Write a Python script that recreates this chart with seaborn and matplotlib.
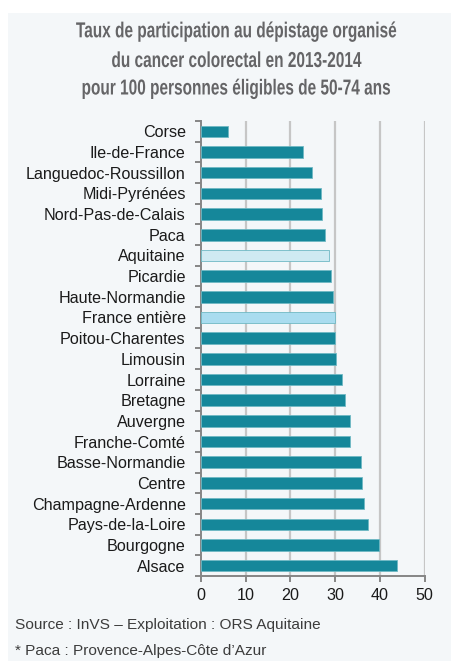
import matplotlib
matplotlib.use("Agg")
import matplotlib.pyplot as plt
from matplotlib.patches import Rectangle
from matplotlib.patheffects import AbstractPathEffect
from matplotlib.transforms import Affine2D
from matplotlib.ticker import FixedLocator
import seaborn as sns
import pandas as pd

regions = ["Corse", "Ile-de-France", "Languedoc-Roussillon", "Midi-Pyrénées",
           "Nord-Pas-de-Calais", "Paca", "Aquitaine", "Picardie",
           "Haute-Normandie", "France entière", "Poitou-Charentes", "Limousin",
           "Lorraine", "Bretagne", "Auvergne", "Franche-Comté",
           "Basse-Normandie", "Centre", "Champagne-Ardenne",
           "Pays-de-la-Loire", "Bourgogne", "Alsace"]
taux = [6.1, 22.7, 24.9, 26.8, 27.1, 27.8, 28.6, 29.1, 29.6, 29.9, 29.9, 30.1,
        31.6, 32.1, 33.4, 33.4, 35.7, 36.0, 36.5, 37.3, 39.7, 43.7]
x_ticks = [0, 10, 20, 30, 40, 50]

title_lines = ["Taux de participation au dépistage organisé",
               "du cancer colorectal en 2013-2014",
               "pour 100 personnes éligibles de 50-74 ans"]
source = "Source : InVS – Exploitation : ORS Aquitaine"
note = "* Paca : Provence-Alpes-Côte d\u2019Azur"

teal = "#15879a"
highlight = {"Aquitaine": "#cfeaf2", "France entière": "#a9dcef"}
palette = {r: highlight.get(r, teal) for r in regions}

sns.set_theme(style="white")
plt.rcParams["font.family"] = ["Liberation Sans", "DejaVu Sans"]


class VStretch(AbstractPathEffect):
    """Stretch glyph outlines vertically about a baseline (display px)."""

    def __init__(self, sy, base_y):
        super().__init__()
        self.sy, self.base_y = sy, base_y

    def draw_path(self, renderer, gc, tpath, affine, rgbFace=None):
        aff = affine + (Affine2D().translate(0, -self.base_y)
                        .scale(1, self.sy).translate(0, self.base_y))
        renderer.draw_path(gc, tpath, aff, rgbFace)


W, H = 452, 661
bg = "#f4f7f9"
fig = plt.figure(figsize=(W / 100, H / 100), dpi=100, facecolor="white")
fig.patches.append(Rectangle((8 / W, 0), 1, 1 - 13 / H,
                             transform=fig.transFigure, facecolor=bg,
                             edgecolor="none", zorder=-10))

ax = fig.add_axes([201 / W, 1 - 576 / H, (424.7 - 201) / W, (576 - 121) / H])
ax.set_facecolor("none")

df = pd.DataFrame({"region": regions, "taux": taux})
sns.barplot(data=df, x="taux", y="region", hue="region", palette=palette,
            order=regions, legend=False, width=0.56, saturation=1, ax=ax,
            edgecolor="#6fb9c4", linewidth=0.6, zorder=3)

ax.set_xlim(0, 50)
ax.set_ylim(len(regions) - 0.5, -0.5)
ax.set_xticks(x_ticks)
ax.set_xticklabels([str(t) for t in x_ticks])
ax.set_xlabel("")
ax.set_ylabel("")

for t in x_ticks[1:]:
    ax.axvline(t, color="#c6c6c6", lw=1.6, zorder=1)

for s in ["top", "right"]:
    ax.spines[s].set_visible(False)
for s in ["left", "bottom"]:
    ax.spines[s].set_color("#858585")
    ax.spines[s].set_linewidth(1.4)

ax.yaxis.set_minor_locator(FixedLocator([i - 0.5 for i in range(len(regions) + 1)]))
ax.tick_params(axis="y", which="major", length=0, pad=11, labelsize=11.6,
               labelcolor="#1a1a1a")
ax.tick_params(axis="y", which="minor", length=4, width=1.4, color="#858585",
               direction="out", left=True)
ax.tick_params(axis="x", which="major", length=4, width=1.4, color="#858585",
               direction="out", bottom=True, pad=5, labelsize=11.6,
               labelcolor="#1a1a1a")

# heading: size the first line to ~321 px wide, then make the letters taller
head_props = dict(family="Liberation Sans", fontweight="bold")
renderer = fig.canvas.get_renderer()
probe = fig.text(0, 0, title_lines[0], fontsize=10, **head_props)
w = probe.get_window_extent(renderer).width
probe.remove()
title_size = 10 * 321.0 / w
cap_px = 0.716 * title_size * 100 / 72
stretch = 15.5 / cap_px
cx = 236.5
for line, yb in zip(title_lines, [37.3, 67.0, 94.5]):
    fig.text(cx / W, 1 - yb / H, line, ha="center", va="baseline",
             fontsize=title_size, color="#656567",
             path_effects=[VStretch(stretch, H - yb)], **head_props)

fig.text(15 / W, 1 - 625 / H, source, ha="left", va="center",
         fontsize=11.1, color="#3c3c3c")
fig.text(15 / W, 1 - 651 / H, note, ha="left", va="center",
         fontsize=11.1, color="#3c3c3c")

fig.savefig("out.png", dpi=100, facecolor="white")
